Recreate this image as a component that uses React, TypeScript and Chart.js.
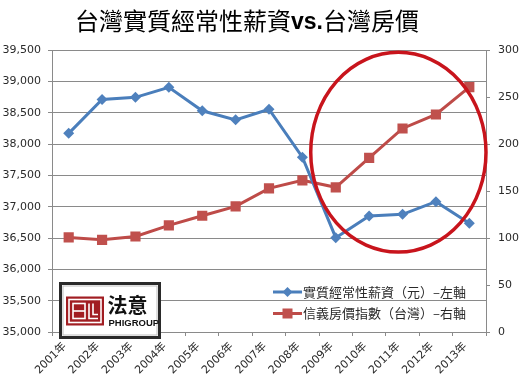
import { useEffect, useRef } from "react";
import { Chart, registerables } from "chart.js";

Chart.register(...registerables);

// ---- data ----
const years = ["2001年", "2002年", "2003年", "2004年", "2005年", "2006年", "2007年", "2008年", "2009年", "2010年", "2011年", "2012年", "2013年"];
const wages = [38170, 38710, 38745, 38905, 38530, 38385, 38555, 37790, 36505, 36850, 36878, 37080, 36735];
const housePrice = [100.6, 98.1, 101.6, 113.4, 123.7, 133.6, 152.8, 161.3, 153.9, 185.2, 216.5, 231.4, 260.5];
const leftAxis = { min: 35000, max: 39500, step: 500 };
const rightAxis = { min: 0, max: 300, step: 50 };
const titleParts = ["台灣實質經常性薪資", "vs.", "台灣房價"];
const wageLabel = "實質經常性薪資（元）–左軸";
const priceLabel = "信義房價指數（台灣）–右軸";
const logoName = "法意";
const logoSub = "PHIGROUP";
// highlighted region: category index range and right-axis value range
const highlightIdx = [7.25, 12.5];
const highlightRight = [85, 297.5];

const BLUE = "#4a7ebb";
const BLUE_M = "#4f81bd";
const RED = "#be4b48";
const RED_M = "#c0504d";
const GRID = "#8a8a8a";
const TXT = "#2a2a2a";
const CJK = '"Noto Sans CJK TC", "Noto Sans", sans-serif';
const NUM = '"DejaVu Sans", "Noto Sans CJK TC", sans-serif';

function diamond(ctx: CanvasRenderingContext2D, x: number, y: number, r: number) {
  ctx.beginPath();
  ctx.moveTo(x, y - r);
  ctx.lineTo(x + r, y);
  ctx.lineTo(x, y + r);
  ctx.lineTo(x - r, y);
  ctx.closePath();
  ctx.fill();
}

const titlePlugin = {
  id: "mixedTitle",
  afterDraw(chart: any) {
    const ctx = chart.ctx as CanvasRenderingContext2D;
    ctx.save();
    const fonts = [`24px ${CJK}`, `bold 23px "Liberation Sans", Arial, sans-serif`, `24px ${CJK}`];
    const widths = titleParts.map((t, i) => {
      ctx.font = fonts[i];
      return ctx.measureText(t).width;
    });
    const total = widths.reduce((a, b) => a + b, 0);
    let x = 247 - total / 2;
    ctx.fillStyle = "#000";
    ctx.textBaseline = "middle";
    ctx.textAlign = "left";
    titleParts.forEach((t, i) => {
      ctx.font = fonts[i];
      ctx.fillText(t, x, i === 1 ? 23 : 21);
      x += widths[i];
    });
    ctx.restore();
  },
};

const legendPlugin = {
  id: "lineLegend",
  afterDraw(chart: any) {
    const ctx = chart.ctx as CanvasRenderingContext2D;
    const area = chart.chartArea;
    const x0 = area.right - 213;
    const rows = [
      { y: area.bottom - 40, color: BLUE, mColor: BLUE_M, kind: "diamond", text: chart.data.datasets[0].label },
      { y: area.bottom - 18.5, color: RED, mColor: RED_M, kind: "square", text: chart.data.datasets[1].label },
    ];
    ctx.save();
    rows.forEach((r) => {
      ctx.strokeStyle = r.color;
      ctx.lineWidth = 3;
      ctx.beginPath();
      ctx.moveTo(x0, r.y);
      ctx.lineTo(x0 + 29, r.y);
      ctx.stroke();
      ctx.fillStyle = r.mColor;
      if (r.kind === "diamond") diamond(ctx, x0 + 14.5, r.y, 5);
      else ctx.fillRect(x0 + 14.5 - 5, r.y - 5, 10, 10);
      ctx.fillStyle = TXT;
      ctx.font = `13px ${CJK}`;
      ctx.textBaseline = "middle";
      ctx.textAlign = "left";
      ctx.fillText(r.text, x0 + 30, r.y);
    });
    ctx.restore();
  },
};

const ellipsePlugin = {
  id: "highlightEllipse",
  afterDatasetsDraw(chart: any) {
    const ctx = chart.ctx as CanvasRenderingContext2D;
    const xs = chart.scales.x;
    const ys = chart.scales.y1;
    const x1 = xs.getPixelForValue(highlightIdx[0]);
    const x2 = xs.getPixelForValue(highlightIdx[1]);
    const y1 = ys.getPixelForValue(highlightRight[1]);
    const y2 = ys.getPixelForValue(highlightRight[0]);
    ctx.save();
    ctx.strokeStyle = "#c8141c";
    ctx.lineWidth = 3.5;
    ctx.beginPath();
    ctx.ellipse((x1 + x2) / 2, (y1 + y2) / 2, (x2 - x1) / 2, (y2 - y1) / 2, 0, 0, Math.PI * 2);
    ctx.stroke();
    ctx.restore();
  },
};

const logoPlugin = {
  id: "logo",
  afterDraw(chart: any) {
    const ctx = chart.ctx as CanvasRenderingContext2D;
    const a = chart.chartArea;
    const bx = a.left + 8.5;
    const by = a.bottom - 48.5;
    ctx.save();
    ctx.fillStyle = "#ffffff";
    ctx.fillRect(bx, by, 99, 54);
    ctx.strokeStyle = "#2a2a2a";
    ctx.lineWidth = 3;
    ctx.strokeRect(bx, by, 99, 54);
    ctx.strokeStyle = "#bdbdbd";
    ctx.lineWidth = 1;
    ctx.strokeRect(bx + 2.5, by + 2.5, 94, 49);
    // icon
    const ix = bx + 5.5;
    const iy = by + 13;
    const red = "#a11d22";
    ctx.fillStyle = red;
    ctx.fillRect(ix, iy, 38, 29);
    ctx.strokeStyle = "#ffffff";
    ctx.lineWidth = 1.6;
    ctx.strokeRect(ix + 3, iy + 3, 32, 23);
    // "日" block
    ctx.strokeRect(ix + 7, iy + 7, 12, 15);
    ctx.beginPath();
    ctx.moveTo(ix + 7, iy + 14.5);
    ctx.lineTo(ix + 19, iy + 14.5);
    ctx.stroke();
    // "L" block
    ctx.beginPath();
    ctx.moveTo(ix + 23, iy + 7);
    ctx.lineTo(ix + 23, iy + 22);
    ctx.lineTo(ix + 32, iy + 22);
    ctx.moveTo(ix + 27, iy + 7);
    ctx.lineTo(ix + 27, iy + 18);
    ctx.lineTo(ix + 32, iy + 18);
    ctx.stroke();
    // text
    ctx.fillStyle = "#111";
    ctx.textAlign = "left";
    ctx.textBaseline = "middle";
    ctx.font = `bold 20px ${CJK}`;
    ctx.fillText(logoName, bx + 47, by + 22);
    ctx.font = `bold 9.5px "Liberation Sans", Arial, sans-serif`;
    ctx.fillText(logoSub, bx + 48, by + 40);
    ctx.restore();
  },
};

export default function App() {
  const ref = useRef<HTMLCanvasElement>(null);
  useEffect(() => {
    const chart = new Chart(ref.current as HTMLCanvasElement, {
      type: "line",
      data: {
        labels: years,
        datasets: [
          {
            label: wageLabel,
            data: wages,
            yAxisID: "y",
            borderColor: BLUE,
            backgroundColor: BLUE_M,
            borderWidth: 3,
            pointStyle: "rectRot",
            pointRadius: 5.5,
            pointBorderWidth: 0,
            tension: 0,
          },
          {
            label: priceLabel,
            data: housePrice,
            yAxisID: "y1",
            borderColor: RED,
            backgroundColor: RED_M,
            borderWidth: 3,
            pointStyle: "rect",
            pointRadius: 7.2,
            pointBorderWidth: 0,
            tension: 0,
          },
        ],
      },
      options: {
        animation: false,
        responsive: false,
        layout: { padding: { top: 50, left: 0, right: 0, bottom: 0 } },
        plugins: {
          legend: { display: false },
          title: { display: false },
          tooltip: { enabled: false },
        },
        scales: {
          x: {
            type: "category",
            offset: true,
            grid: { display: true, drawOnChartArea: false, offset: true, tickLength: 4, color: GRID },
            border: { color: GRID },
            ticks: {
              minRotation: 45,
              maxRotation: 45,
              autoSkip: false,
              padding: 4,
              labelOffset: -4,
              color: TXT,
              font: { size: 11, family: NUM },
            },
            afterFit: (s: any) => {
              s.height = 53;
            },
          },
          y: {
            position: "left",
            min: leftAxis.min,
            max: leftAxis.max,
            grid: { color: GRID, tickLength: 4 },
            border: { color: GRID },
            ticks: {
              stepSize: leftAxis.step,
              padding: 7,
              color: TXT,
              font: { size: 11, family: NUM },
              callback: (v: any) => Number(v).toLocaleString("en-US"),
            },
            afterFit: (s: any) => {
              s.width = 52;
            },
          },
          y1: {
            position: "right",
            min: rightAxis.min,
            max: rightAxis.max,
            grid: { drawOnChartArea: false, color: GRID, tickLength: 4 },
            border: { color: GRID },
            ticks: {
              stepSize: rightAxis.step,
              padding: 8,
              color: TXT,
              font: { size: 11, family: NUM },
            },
            afterFit: (s: any) => {
              s.width = 45;
            },
          },
        },
      },
      plugins: [titlePlugin, ellipsePlugin, legendPlugin, logoPlugin],
    });
    return () => chart.destroy();
  }, []);
  return (
    <div style={{ position: "absolute", left: 0, top: 0, width: 531, height: 385, background: "#fff" }}>
      <canvas ref={ref} width={531} height={385} style={{ display: "block" }} />
    </div>
  );
}
